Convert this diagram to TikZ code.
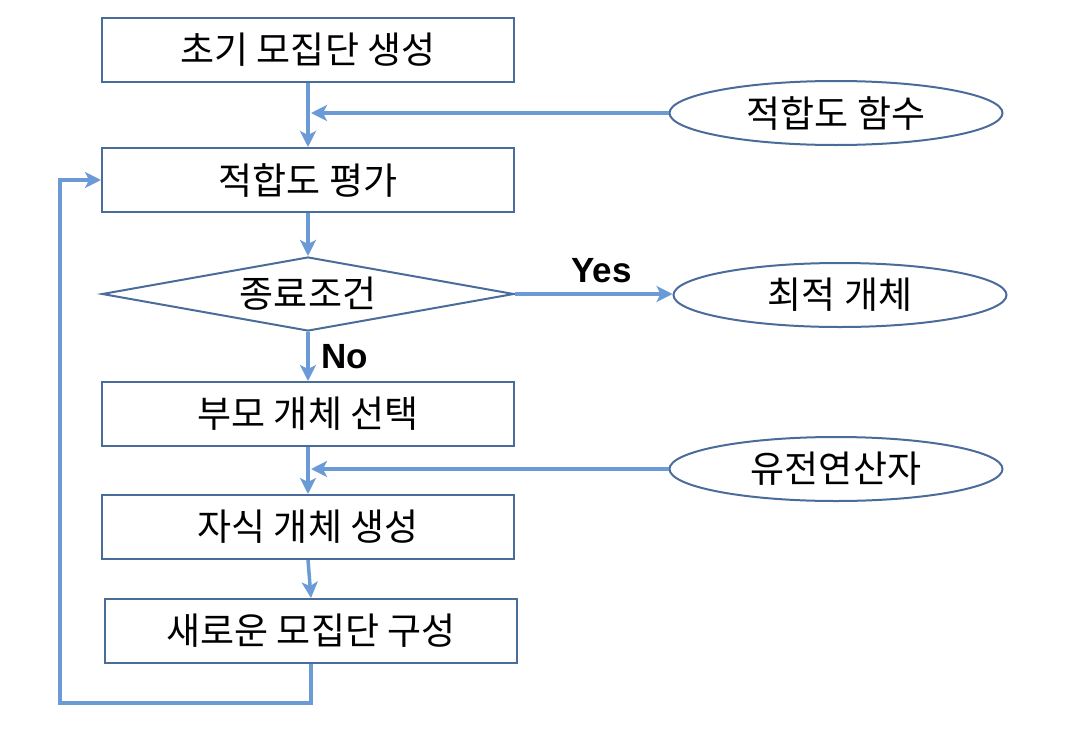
\documentclass[tikz,border=0pt]{standalone}
\usepackage{fontspec}
\setmainfont{Noto Sans CJK KR}
\newfontfamily\latinfont{Liberation Sans}
\usetikzlibrary{arrows.meta,positioning,shapes.geometric}
\definecolor{outline}{HTML}{4A6C9B}
\definecolor{flow}{HTML}{6B9BD6}

\begin{document}
\begin{tikzpicture}[x=1pt,y=-1pt,
  box/.style={draw=outline,line width=2pt,minimum width=412pt,minimum height=64pt,inner sep=0pt,font=\fontsize{37}{40}\selectfont},
  oval/.style={draw=outline,ellipse,line width=2pt,minimum width=333pt,minimum height=64pt,inner sep=0pt,font=\fontsize{37}{40}\selectfont},
  flowline/.style={draw=flow,line width=3.5pt,-{Stealth[length=16pt,width=16pt,inset=4pt]}},
  tag/.style={font=\latinfont\bfseries\fontsize{35}{40}\selectfont},
]
  \useasboundingbox (0,0) rectangle (1086,728);

  \node[box] (init) at (308,50) {초기 모집단 생성};
  \node[box] (eval) at (308,180) {적합도 평가};
  \node[draw=outline,line width=2pt,diamond,aspect=5.5,minimum width=412pt,minimum height=74pt,inner sep=0pt,font=\fontsize{37}{40}\selectfont] (stop) at (308,294) {종료조건};
  \node[box] (sel) at (308,414) {부모 개체 선택};
  \node[box] (child) at (308,527) {자식 개체 생성};
  \node[box] (newpop) at (311,631) {새로운 모집단 구성};

  \node[oval] (fit) at (836,113) {적합도 함수};
  \node[oval] (best) at (840,295) {최적 개체};
  \node[oval] (ops) at (836,469) {유전연산자};

  \coordinate (fitin) at (311,113);
  \coordinate (opsin) at (311,469);

  \draw[flowline] (init) -- (eval);
  \draw[flowline] (fit) -- (fitin);
  \draw[flowline] (eval) -- (stop);
  \draw[flowline] (stop.east) -- node[tag,above=6pt,pos=0.55] {Yes} (stop.east -| best.west);
  \draw[flowline] (stop) -- node[tag,pos=0.5,right=8pt] {No} (sel);
  \draw[flowline] (sel) -- (child);
  \draw[flowline] (ops) -- (opsin);
  \draw[flowline] (child.south) -- (newpop.north);
  \draw[flowline] (newpop.south) |- (60,703) |- (eval.west);
\end{tikzpicture}
\end{document}
